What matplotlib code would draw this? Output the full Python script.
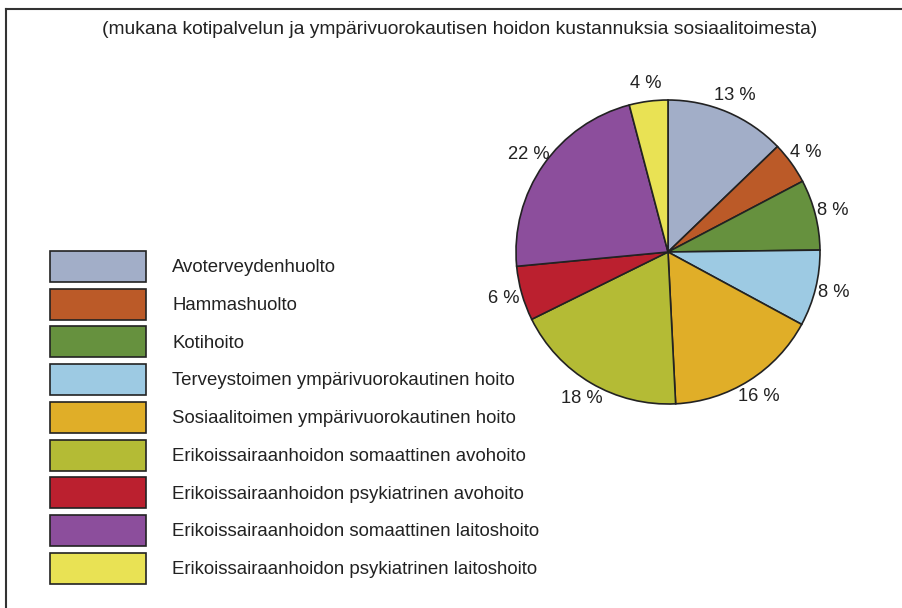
import matplotlib.pyplot as plt

plt.rcParams['font.family'] = ['Liberation Sans', 'DejaVu Sans']

# osuudet kustannuksista (%), luettu kuvasta
luokat = [
    "Avoterveydenhuolto",
    "Hammashuolto",
    "Kotihoito",
    "Terveystoimen ympärivuorokautinen hoito",
    "Sosiaalitoimen ympärivuorokautinen hoito",
    "Erikoissairaanhoidon somaattinen avohoito",
    "Erikoissairaanhoidon psykiatrinen avohoito",
    "Erikoissairaanhoidon somaattinen laitoshoito",
    "Erikoissairaanhoidon psykiatrinen laitoshoito",
]
osuudet = [12.8, 4.5, 7.5, 8.1, 16.3, 18.5, 5.8, 22.4, 4.1]
prosentit = ["13 %", "4 %", "8 %", "8 %", "16 %", "18 %", "6 %", "22 %", "4 %"]
varit = ["#a2aec8", "#bb5a28", "#66913e", "#9dcae3", "#e0ae28",
         "#b4bb35", "#bb202f", "#8c4e9c", "#e9e254"]

W, H = 902, 608
fig = plt.figure(figsize=(W / 100, H / 100), dpi=100)
ax = fig.add_axes([0, 0, 1, 1])

# kehys (vain ylä- ja vasen reuna näkyvät)
ax.plot([5.5, W], [H - 8.5, H - 8.5], color="#333333", lw=1.5)
ax.plot([5.5, 5.5], [0, H - 8.5], color="#333333", lw=1.5)

ax.text(460, H - 30, "(mukana kotipalvelun ja ympärivuorokautisen hoidon kustannuksia sosiaalitoimesta)",
        ha="center", va="center", fontsize=13.9, color="#222222")

wedges, tekstit = ax.pie(
    osuudet, labels=prosentit, colors=varit, startangle=90, counterclock=False,
    center=(668, H - 252), radius=152, labeldistance=1.12, frame=True,
    wedgeprops=dict(edgecolor="#222222", linewidth=1.2),
    textprops=dict(fontsize=13.2, color="#222222", ha="center", va="center"),
)
ax.set_xlim(0, W)
ax.set_ylim(0, H)
ax.axis("off")

fs = 13.4
px = fs * 100 / 72
leg = fig.legend(wedges, luokat, loc="upper left", bbox_to_anchor=(50 / W, 1 - 251 / H),
                 frameon=False, fontsize=fs, borderpad=0, borderaxespad=0,
                 handlelength=96 / px, handleheight=2.186, labelspacing=6.7 / px,
                 handletextpad=26 / px, labelcolor="#222222")

fig.savefig("out.png", dpi=100)
